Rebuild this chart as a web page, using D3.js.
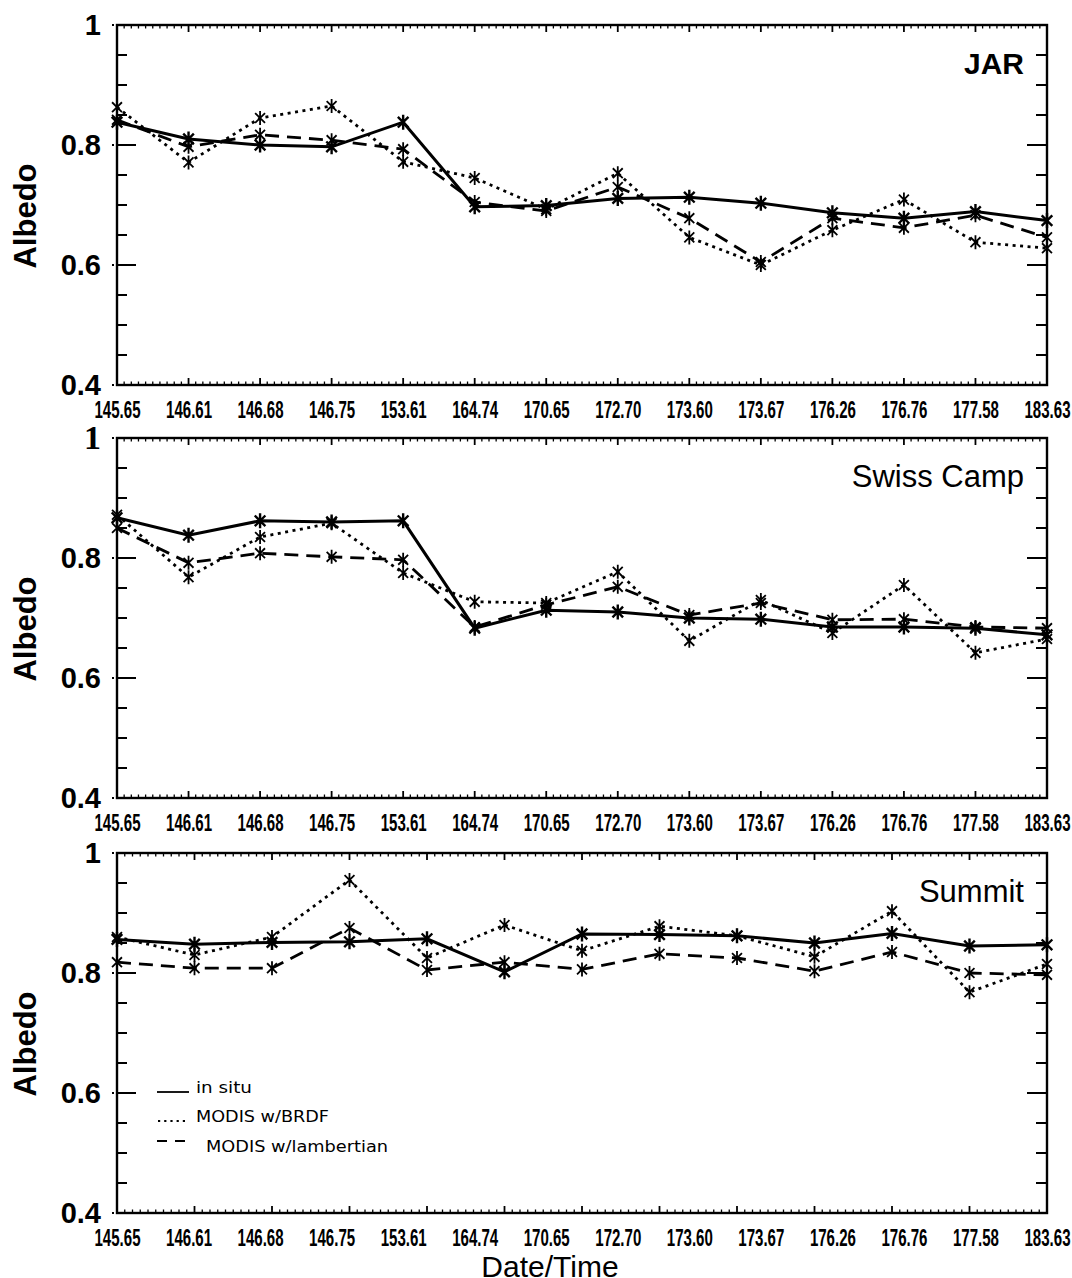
<!DOCTYPE html>
<html>
<head>
<meta charset="utf-8">
<script src="https://cdn.jsdelivr.net/npm/d3@7"></script>
<style>
  html, body { margin: 0; padding: 0; background: #fff; }
  svg { display: block; }
</style>
</head>
<body>
<script>
// ---------------- data ----------------
const dateLabels = ["145.65","146.61","146.68","146.75","153.61","164.74","170.65",
                    "172.70","173.60","173.67","176.26","176.76","177.58","183.63"];

// JAR
const jarInSitu = [0.838,0.810,0.800,0.797,0.838,0.697,0.699,0.711,0.713,0.703,0.687,0.678,0.689,0.674];
const jarBRDF   = [0.863,0.771,0.845,0.865,0.772,0.745,0.693,0.753,0.646,0.600,0.658,0.709,0.638,0.628];
const jarLamb   = [0.842,0.797,0.817,0.808,0.793,0.705,0.690,0.730,0.678,0.605,0.678,0.662,0.683,0.646];

// Swiss Camp
const swissInSitu = [0.867,0.838,0.862,0.860,0.862,0.683,0.713,0.710,0.700,0.698,0.685,0.685,0.683,0.672];
const swissBRDF   = [0.872,0.768,0.835,0.858,0.775,0.727,0.725,0.777,0.662,0.730,0.675,0.755,0.642,0.665];
const swissLamb   = [0.850,0.792,0.808,0.802,0.797,0.685,0.722,0.752,0.705,0.725,0.697,0.698,0.685,0.683];

// Summit (13 observations, plotted on 13 evenly spaced positions)
const summitIdx    = ["s1","s2","s3","s4","s5","s6","s7","s8","s9","s10","s11","s12","s13"];
const summitInSitu = [0.856,0.848,0.851,0.852,0.857,0.802,0.865,0.864,0.862,0.850,0.866,0.845,0.847];
const summitBRDF   = [0.860,0.830,0.860,0.955,0.825,0.880,0.837,0.878,0.862,0.827,0.903,0.768,0.815];
const summitLamb   = [0.818,0.808,0.808,0.875,0.805,0.818,0.806,0.832,0.825,0.803,0.835,0.800,0.797];

const yTickLabels = [0.4, 0.6, 0.8, 1];
const yMinorTicks = [0.45,0.5,0.55,0.6,0.65,0.7,0.75,0.8,0.85,0.9,0.95];

const seriesNames = ["in situ", "MODIS w/BRDF", "MODIS w/lambertian"];

// ---------------- layout ----------------
const W = 1072, H = 1278;
const L = 117, R = 1047, PH = 360;

const svg = d3.select("body").append("svg")
  .attr("width", W).attr("height", H)
  .attr("viewBox", `0 0 ${W} ${H}`);

const panels = [
  { name: "JAR", bold: true, top: 25, cats: dateLabels, s: [jarInSitu, jarBRDF, jarLamb] },
  { name: "Swiss Camp", bold: false, top: 438, cats: dateLabels, s: [swissInSitu, swissBRDF, swissLamb], serifOne: true },
  { name: "Summit", bold: false, top: 853, cats: summitIdx, s: [summitInSitu, summitBRDF, summitLamb], legend: true }
];

const styles = [
  { dash: null, width: 3, mw: 2.4 },
  { dash: "3,4.5", width: 2.8, mw: 1.8 },
  { dash: "14,8", width: 2.8, mw: 1.8 }
];

function asterisk(r) {
  const a = r * Math.cos(Math.PI / 4), b = r * Math.sin(Math.PI / 4);
  return `M0,${-r}L0,${r}M${-a},${-b}L${a},${b}M${-a},${b}L${a},${-b}`;
}

panels.forEach(p => {
  const top = p.top, bottom = p.top + PH;
  const g = svg.append("g");
  const x = d3.scalePoint().domain(p.cats).range([L, R]);
  const xl = d3.scalePoint().domain(dateLabels).range([L, R]);
  const y = d3.scaleLinear().domain([0.4, 1]).range([bottom, top]);
  const step = x.step();

  // x ticks (major + minor), top and bottom, pointing inward
  const majors = p.cats.map(c => x(c));
  const minors = [];
  majors.slice(0, -1).forEach(m => { for (let k = 1; k < 10; k++) minors.push(m + k * step / 10); });
  const tk = g.append("g").attr("stroke", "#000");
  majors.forEach(m => {
    tk.append("line").attr("x1", m).attr("x2", m).attr("y1", top).attr("y2", top + 7).attr("stroke-width", 1.8);
    tk.append("line").attr("x1", m).attr("x2", m).attr("y1", bottom).attr("y2", bottom - 7).attr("stroke-width", 1.8);
  });
  minors.forEach(m => {
    tk.append("line").attr("x1", m).attr("x2", m).attr("y1", top).attr("y2", top + 3.5).attr("stroke-width", 1.3);
    tk.append("line").attr("x1", m).attr("x2", m).attr("y1", bottom).attr("y2", bottom - 3.5).attr("stroke-width", 1.3);
  });
  // y ticks
  yMinorTicks.forEach(v => {
    const major = Math.abs(v - 0.6) < 1e-6 || Math.abs(v - 0.8) < 1e-6;
    const len = major ? 19 : 10;
    tk.append("line").attr("x1", L).attr("x2", L + len).attr("y1", y(v)).attr("y2", y(v)).attr("stroke-width", 2);
    tk.append("line").attr("x1", R).attr("x2", R - len - 1).attr("y1", y(v)).attr("y2", y(v)).attr("stroke-width", 2);
  });
  // small dots left of frame at labelled values
  yTickLabels.forEach(v => {
    g.append("rect").attr("x", L - 5).attr("y", y(v) - 1).attr("width", 2).attr("height", 2).attr("fill", "#000");
  });

  // frame
  g.append("rect").attr("x", L).attr("y", top).attr("width", R - L).attr("height", PH)
    .attr("fill", "none").attr("stroke", "#000").attr("stroke-width", 2.4);

  // x tick labels
  const ax = g.append("g").attr("transform", `translate(0,${bottom})`)
    .call(d3.axisBottom(xl).tickSize(0).tickPadding(0));
  ax.select(".domain").remove();
  ax.selectAll("text")
    .attr("y", 33).attr("dy", null)
    .attr("font-family", "Liberation Sans, Arial, sans-serif")
    .attr("font-weight", "bold").attr("font-size", 24)
    .attr("fill", "#000")
    .attr("textLength", 46).attr("lengthAdjust", "spacingAndGlyphs");

  // y tick labels
  const ay = g.append("g").attr("transform", `translate(${L},0)`)
    .call(d3.axisLeft(y).tickValues(yTickLabels).tickFormat(d3.format("")).tickSize(0).tickPadding(16));
  ay.select(".domain").remove();
  ay.attr("font-family", null);
  ay.selectAll(".tick text")
    .style("font-family", "'Liberation Sans', Arial, sans-serif")
    .attr("font-weight", "bold").attr("font-size", 29).attr("fill", "#000");
  if (p.serifOne) {
    ay.selectAll(".tick").filter(d => Math.abs(d - 1) < 1e-9).select("text")
      .style("font-family", "'Liberation Serif', 'DejaVu Serif', 'Times New Roman', serif")
      .attr("font-size", 34);
  }

  // y axis title
  g.append("text")
    .attr("transform", `translate(36,${(top + bottom) / 2 + 11}) rotate(-90)`)
    .attr("text-anchor", "middle")
    .attr("font-family", "Liberation Sans, Arial, sans-serif")
    .attr("font-weight", "bold").attr("font-size", 31).attr("fill", "#000")
    .text("Albedo");

  // station label
  g.append("text")
    .attr("x", 1024).attr("y", top + 49).attr("text-anchor", "end")
    .attr("font-family", "Liberation Sans, Arial, sans-serif")
    .attr("font-weight", p.bold ? "bold" : "normal")
    .attr("font-size", p.bold ? 30 : 31).attr("fill", "#000")
    .text(p.name);

  // series (draw lambertian, BRDF, then in situ on top)
  [2, 1, 0].forEach(si => {
    const vals = p.s[si];
    const st = styles[si];
    const line = d3.line().x((d, i) => x(p.cats[i])).y(d => y(d));
    g.append("path").datum(vals).attr("d", line)
      .attr("fill", "none").attr("stroke", "#000")
      .attr("stroke-width", st.width)
      .attr("stroke-dasharray", st.dash)
      .attr("stroke-linejoin", "miter");
    g.append("g").selectAll("path").data(vals).join("path")
      .attr("transform", (d, i) => `translate(${x(p.cats[i])},${y(d)})`)
      .attr("d", asterisk(si === 0 ? 7.5 : 7))
      .attr("fill", "none").attr("stroke", "#000").attr("stroke-width", st.mw);
  });

  // legend
  if (p.legend) {
    const lg = g.append("g").attr("font-family", "DejaVu Sans, Verdana, sans-serif")
      .attr("font-size", 16).attr("fill", "#000");
    const rows = [
      { y: 1093, x0: 157, x1: 189, tx: 196, tl: 56 },
      { y: 1122, x0: 158, x1: 186, tx: 196, tl: 133 },
      { y: 1152, x0: 157, x1: 186, tx: 206, tl: 182 }
    ];
    rows.forEach((r, i) => {
      const ly = i === 2 ? r.y - 11 : r.y - 1;
      lg.append("line").attr("x1", r.x0).attr("x2", r.x1).attr("y1", ly).attr("y2", ly)
        .attr("stroke", "#000").attr("stroke-width", i === 1 ? 2.2 : 1.8)
        .attr("stroke-dasharray", i === 1 ? "2.2,4" : (i === 2 ? "10,8" : null));
      lg.append("text").attr("x", r.tx).attr("y", r.y)
        .attr("textLength", r.tl).attr("lengthAdjust", "spacingAndGlyphs")
        .text(seriesNames[i]);
    });
  }
});

// x axis title
svg.append("text")
  .attr("x", 550).attr("y", 1277).attr("text-anchor", "middle")
  .attr("font-family", "Liberation Sans, Arial, sans-serif")
  .attr("font-size", 30).attr("fill", "#000")
  .text("Date/Time");
</script>
</body>
</html>
